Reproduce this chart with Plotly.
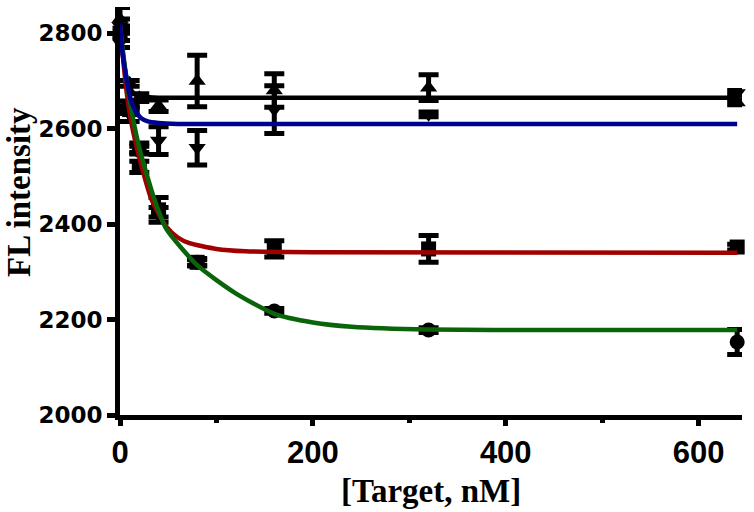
import plotly.graph_objects as go

# concentrations (nM)
conc = [0, 10, 20, 40, 80, 160, 320, 640]

# measured points (mean, error)
circle_y = [2790, 2650, 2555, 2425, 2320, 2218, 2178, 2153]
circle_e = [20, 8, 8, 10, 6, 5, 5, 26]
square_y = [2800, 2640, 2520, 2430, 2320, 2348, 2348, 2352]
square_e = [15, 8, 12, 26, 8, 17, 28, 6]
tri_up_y = [2830, 2695, 2665, 2648, 2700, 2680, 2686, 2655]
tri_up_e = [24, 6, 8, 12, 54, 35, 27, 5]
tri_dn_y = [2815, 2630, 2560, 2575, 2560, 2640, 2630, 2675]
tri_dn_e = [15, 15, 10, 29, 36, 50, 5, 5]

# fitted curves
green_x = [0, 5, 10, 20, 36, 48, 80, 120, 160, 200, 240, 320, 450, 640]
green_y = [2815, 2730, 2660, 2560, 2450, 2390, 2314, 2255, 2212, 2194, 2185, 2179, 2178, 2178]
red_x = [0, 4, 7, 12, 20, 33, 48, 60, 72, 100, 130, 200, 640]
red_y = [2815, 2730, 2675, 2610, 2540, 2450, 2395, 2372, 2360, 2348, 2343, 2341, 2340]
black_x = [0, 2, 4, 7, 10, 15, 25, 40, 640]
black_y = [2820, 2775, 2740, 2705, 2686, 2673, 2667, 2665, 2665]
blue_x = [0, 2.3, 5, 7, 11, 14, 17.6, 22, 28, 40, 60, 640]
blue_y = [2820, 2764, 2725, 2700, 2662, 2645, 2632, 2622, 2616, 2612, 2610, 2610]

x_ticks = [0, 200, 400, 600]
x_minor = [100, 300, 500]
y_ticks = [2000, 2200, 2400, 2600, 2800]

x_title = "[Target, nM]"
y_title = "FL intensity"

fig = go.Figure()

def pts(y, e, sym):
    fig.add_trace(go.Scatter(
        x=conc, y=y, mode="markers", cliponaxis=False,
        marker=dict(symbol=sym, size=15, color="black"),
        error_y=dict(type="data", array=e, visible=True, color="black",
                     thickness=5, width=10),
        showlegend=False, hoverinfo="skip"))

pts(circle_y, circle_e, "circle")
pts(square_y, square_e, "square")
pts(tri_up_y, tri_up_e, "triangle-up")
pts(tri_dn_y, tri_dn_e, "triangle-down")

def curve(x, y, col):
    fig.add_trace(go.Scatter(
        x=x, y=y, mode="lines", line=dict(color=col, width=4.5, shape="spline", smoothing=0.6),
        cliponaxis=False, showlegend=False, hoverinfo="skip"))

curve(black_x, black_y, "black")
curve(red_x, red_y, "#A00000")
curve(green_x, green_y, "#0A640A")
curve(blue_x, blue_y, "#000090")

fig.update_layout(
    width=754, height=512,
    margin=dict(l=120, r=12, t=7, b=97),
    plot_bgcolor="white", paper_bgcolor="white",
    xaxis=dict(range=[0, 645], tickvals=x_ticks, ticks="outside", ticklen=6, tickwidth=5,
               tickcolor="black", automargin=False,
               showline=True, linewidth=5, linecolor="black", showgrid=False, zeroline=False,
               tickfont=dict(family="Liberation Sans", size=31, color="black", weight="bold"),
               minor=dict(tickvals=x_minor, ticks="outside", ticklen=3, tickwidth=5,
                          tickcolor="black", showgrid=False)),
    yaxis=dict(range=[2000, 2855], tickvals=y_ticks, ticks="outside", ticklen=8, tickwidth=5,
               tickcolor="black", automargin=False,
               showline=True, linewidth=5, linecolor="black", showgrid=False, zeroline=False,
               tickfont=dict(family="DejaVu Sans", size=23, color="black", weight="bold")),
    annotations=[
        dict(text=x_title, xref="paper", yref="paper", x=0.5, y=0, yshift=-76,
             xanchor="center", yanchor="middle", showarrow=False,
             font=dict(family="Liberation Serif", size=33, color="black", weight="bold")),
        dict(text=y_title, xref="paper", yref="paper", x=0, y=0.5, xshift=-101, yshift=19,
             xanchor="center", yanchor="middle", textangle=-90, showarrow=False,
             font=dict(family="Liberation Serif", size=33, color="black", weight="bold")),
    ],
)

fig.write_html("out.html", config={"displayModeBar": False},
               post_script="document.body.style.margin='0';document.body.style.overflow='hidden';")
